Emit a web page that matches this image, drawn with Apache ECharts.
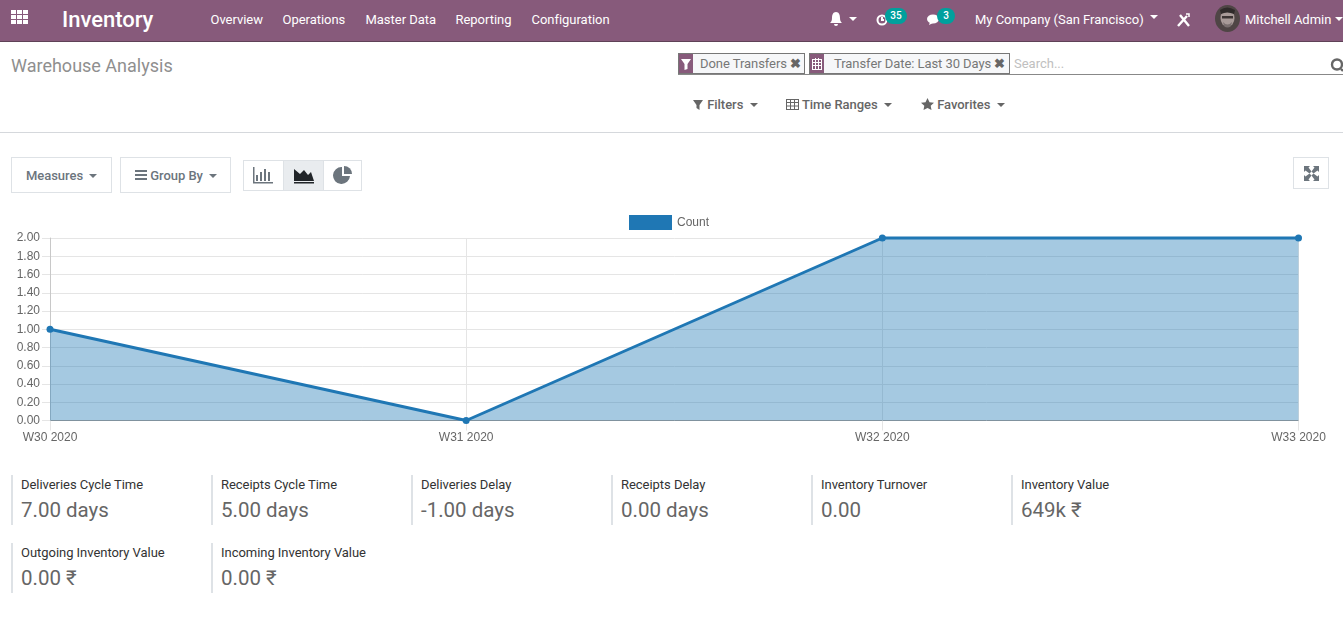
<!DOCTYPE html>
<html>
<head>
<meta charset="utf-8">
<title>Warehouse Analysis</title>
<script src="https://cdn.jsdelivr.net/npm/echarts@6/dist/echarts.min.js"></script>
<style>
html, body { margin: 0; padding: 0; background: #fff; overflow: hidden; }
body { width: 1343px; height: 617px; position: relative; font-family: Roboto, "Noto Sans", sans-serif; color: #4c4c4c; }
.abs { position: absolute; white-space: nowrap; }
#nav { position: absolute; left: 0; top: 0; width: 1343px; height: 41px; background: #875a7b; border-bottom: 1px solid #5f4257; }
#nav .abs { color: #fff; font-size: 13px; line-height: 18px; top: 11px; letter-spacing: -0.03px; }
.caret { display: inline-block; width: 0; height: 0; border-left: 4px solid transparent; border-right: 4px solid transparent; border-top: 4px solid currentColor; vertical-align: 2px; }
.badge { position: absolute; background: #00a09d; color: #fff; border-radius: 8px; font-size: 10px; font-weight: 500; line-height: 16px; height: 16px; text-align: center; }
.rule { position: absolute; left: 0; top: 132px; width: 1343px; height: 1px; background: #d5d8dc; }
.facet { position: absolute; top: 53px; height: 19px; border: 1px solid #777; background: #f6f7f9; color: #777; font-size: 13px; line-height: 19px; letter-spacing: -0.06px; }
.facet .ico { position: absolute; left: 0; top: 0; width: 14px; height: 19px; background: #875a7b; }
.facet .txt { position: absolute; top: 0; white-space: nowrap; }
.drop { position: absolute; top: 97px; font-size: 13px; font-weight: 500; color: #666; line-height: 16px; white-space: nowrap; letter-spacing: -0.04px; }
.btn { position: absolute; box-sizing: border-box; border: 1px solid #dee2e6; background: #fff; color: #6c757d; font-size: 13px; font-weight: 500; letter-spacing: -0.04px; }
#chart { position: absolute; left: 0; top: 205px; width: 1343px; height: 250px; }
.kpi { position: absolute; width: 190px; height: 50px; border-left: 2px solid #dee2e6; box-sizing: border-box; padding-left: 8px; }
.kpi .lbl { font-size: 13px; color: #333; line-height: 16px; margin-top: 2px; white-space: nowrap; letter-spacing: -0.04px; }
.kpi .val { font-size: 20.5px; color: #666; line-height: 26px; margin-top: 4px; white-space: nowrap; }
</style>
</head>
<body>
<div id="nav">
  <svg class="abs" style="left:11px;top:10px" width="18" height="15" fill="#fff"><rect x="0" y="0" width="5" height="4"/><rect x="6" y="0" width="5" height="4"/><rect x="12" y="0" width="5" height="4"/><rect x="0" y="5" width="5" height="4"/><rect x="6" y="5" width="5" height="4"/><rect x="12" y="5" width="5" height="4"/><rect x="0" y="10" width="5" height="4"/><rect x="6" y="10" width="5" height="4"/><rect x="12" y="10" width="5" height="4"/></svg>
  <div class="abs" style="left:62px;top:7px;font-size:22px;line-height:26px;font-weight:500">Inventory</div>
  <div class="abs" style="left:210.500px">Overview</div>
  <div class="abs" style="left:282.500px">Operations</div>
  <div class="abs" style="left:365.500px">Master Data</div>
  <div class="abs" style="left:455.500px">Reporting</div>
  <div class="abs" style="left:531.500px">Configuration</div>
  <svg class="abs" style="left:829px;top:12px" width="14" height="15" fill="#fff"><path d="M7 0C4 0 3 3 3 6C3 9 2 10 1 11H13C12 10 11 9 11 6C11 3 10 0 7 0ZM5 12A2 2 0 0 0 9 12Z"/></svg>
  <span class="abs caret" style="left:849px;top:17px;color:#fff"></span>
  <svg class="abs" style="left:876px;top:13px" width="13" height="14" fill="none" stroke="#fff" stroke-width="2"><circle cx="6" cy="7" r="4.500"/><path d="M6 4V7H8"/></svg>
  <div class="badge" style="left:885px;top:8px;width:22px">35</div>
  <svg class="abs" style="left:927px;top:14px" width="14" height="12" fill="#fff"><ellipse cx="6" cy="5" rx="6" ry="4.500"/><path d="M3 8L2 11L6 9Z"/></svg>
  <div class="badge" style="left:937px;top:8px;width:18px">3</div>
  <div class="abs" style="left:975px">My Company (San Francisco)</div>
  <span class="abs caret" style="left:1150px;top:15px;color:#fff"></span>
  <svg class="abs" style="left:1177px;top:13px" width="13" height="14" stroke="#fff" stroke-width="2.400" fill="none"><path d="M1 13L10 3M3 2L12 13"/><path d="M9 1H12V4" stroke-width="1.500"/></svg>
  <svg class="abs" style="left:1215px;top:5px" width="25" height="27"><ellipse cx="12.500" cy="13.500" rx="12.500" ry="13.500" fill="#4f4545"/><ellipse cx="12.500" cy="13" rx="7" ry="9" fill="#a89a98"/><path d="M5 5Q12 0 20 5L19 9Q12 6 6 9Z" fill="#2f2a2a"/><rect x="7" y="11" width="11" height="2.500" fill="#3c3434"/><path d="M8 17Q12.500 22 17 17L16 21Q12.500 24 9 21Z" fill="#7a6f6f"/></svg>
  <div class="abs" style="left:1245px">Mitchell Admin</div>
  <span class="abs caret" style="left:1335px;top:17px;color:#fff"></span>
</div>

<div class="abs" style="left:11px;top:54px;font-size:18px;line-height:24px;color:#8f8f8f">Warehouse Analysis</div>

<div class="facet" style="left:678px;width:125px">
  <div class="ico"><svg width="14" height="19" fill="#fff"><path d="M2 5H12L8.500 10V15L5.500 16V10Z"/></svg></div>
  <div class="txt" style="left:21px">Done Transfers <b style="color:#666">✖</b></div>
</div>
<div class="facet" style="left:809px;width:199px">
  <div class="ico"><svg width="14" height="19" fill="none" stroke="#fff"><rect x="2.500" y="5.500" width="9" height="10"/><path d="M2.500 8.500H11.500M2.500 11.500H11.500M5.500 4V15M8.500 4V15"/></svg></div>
  <div class="txt" style="left:24px">Transfer Date: Last 30 Days <b style="color:#666">✖</b></div>
</div>
<div class="abs" style="left:1014px;top:56px;font-size:13px;line-height:16px;color:#c0c0c0">Search...</div>
<div class="abs" style="left:678px;top:74px;width:665px;height:1px;background:#888"></div>
<svg class="abs" style="left:1330px;top:58px" width="13" height="14" fill="none" stroke="#666" stroke-width="2.400"><circle cx="7" cy="6.500" r="5"/><path d="M11 11L13 13"/></svg>

<div class="drop" style="left:693px"><svg width="11" height="11" fill="#666" style="vertical-align:-1px"><path d="M0 1H10L6.500 6V11L3.500 9V6Z"/></svg> Filters &nbsp;<span class="caret"></span></div>
<div class="drop" style="left:786px"><svg width="13" height="12" fill="none" stroke="#666" style="vertical-align:-1px"><rect x="0.500" y="1.500" width="12" height="10"/><path d="M0.500 4.500H12.500M0.500 8H12.500M4.500 1V11M8.500 1V11"/></svg> Time Ranges &nbsp;<span class="caret"></span></div>
<div class="drop" style="left:921px"><svg width="13" height="12" fill="#666" style="vertical-align:-1px"><path d="M6.500 0L8.500 4.200L13 4.800L9.700 7.800L10.500 12L6.500 10L2.500 12L3.300 7.800L0 4.800L4.500 4.200Z"/></svg> Favorites &nbsp;<span class="caret"></span></div>

<div class="rule"></div>

<div class="btn" style="left:11px;top:157px;width:101px;height:36px;line-height:35px;padding-left:14px">Measures &nbsp;<span class="caret"></span></div>
<div class="btn" style="left:120px;top:157px;width:111px;height:36px;line-height:35px;padding-left:14px"><svg width="12" height="10" fill="#6c757d"><rect y="0" width="12" height="2"/><rect y="4" width="12" height="2"/><rect y="8" width="12" height="2"/></svg> Group By &nbsp;<span class="caret"></span></div>
<div class="btn" style="left:243px;top:160px;width:41px;height:31px"><svg style="position:absolute;left:9px;top:6px" width="20" height="17" fill="#6c757d"><rect x="0" y="0" width="1.500" height="16"/><rect x="0" y="15" width="20" height="1.500"/><rect x="3" y="8" width="2" height="6"/><rect x="7" y="5" width="2" height="9"/><rect x="11" y="2" width="2" height="12"/><rect x="15" y="5" width="2" height="9"/></svg></div>
<div class="btn" style="left:283px;top:160px;width:41px;height:31px;background:#e9ecef"><svg style="position:absolute;left:10px;top:6px" width="20" height="17" fill="#212529"><path d="M0 14V2L6 7L10 3L14 8L17 5L20 14Z"/><rect y="15" width="20" height="1.500"/></svg></div>
<div class="btn" style="left:323px;top:160px;width:39px;height:31px"><svg style="position:absolute;left:9px;top:5px" width="20" height="18" fill="#6c757d"><path d="M9 1V10H17A8.500 8.500 0 1 1 9 1Z"/><path d="M11 0A8 8 0 0 1 19 8H11Z"/></svg></div>
<div class="btn" style="left:1293px;top:157px;width:36px;height:32px"><svg style="position:absolute;left:10px;top:8px" width="15" height="15" fill="#6c757d"><path d="M0 0H6L4.500 1.500L7.500 5.500L5.500 7.500L1.500 4.500L0 6Z"/><path d="M15 0H9L10.500 1.500L7.500 5.500L9.500 7.500L13.500 4.500L15 6Z"/><path d="M0 15H6L4.500 13.500L7.500 9.500L5.500 7.500L1.500 10.500L0 9Z"/><path d="M15 15H9L10.500 13.500L7.500 9.500L9.500 7.500L13.500 10.500L15 9Z"/></svg></div>

<div id="chart"></div>
<div id="kpis"></div>

<script>
var categories = ['W30 2020', 'W31 2020', 'W32 2020', 'W33 2020'];
var countValues = [1, 0, 2, 2];
var kpiLabels = ['Deliveries Cycle Time', 'Receipts Cycle Time', 'Deliveries Delay', 'Receipts Delay', 'Inventory Turnover', 'Inventory Value', 'Outgoing Inventory Value', 'Incoming Inventory Value'];
var kpiValues = ['7.00 days', '5.00 days', '-1.00 days', '0.00 days', '0.00', '649k ₹', '0.00 ₹', '0.00 ₹'];

var kpiBox = document.getElementById('kpis');
for (var i = 0; i < kpiLabels.length; i++) {
    var el = document.createElement('div');
    el.className = 'kpi';
    el.style.left = (11 + (i % 6) * 200) + 'px';
    el.style.top = (i < 6 ? 475 : 543) + 'px';
    el.innerHTML = '<div class="lbl">' + kpiLabels[i] + '</div><div class="val">' + kpiValues[i] + '</div>';
    kpiBox.appendChild(el);
}

var chart = echarts.init(document.getElementById('chart'));
var option = {
    animation: false,
    color: ['#1f77b4'],
    textStyle: { fontFamily: '"Liberation Sans", Arial, sans-serif' },
    legend: {
        top: 5,
        left: 624,
        itemWidth: 43,
        itemHeight: 15,
        itemGap: 10,
        icon: 'rect',
        textStyle: { fontSize: 12, color: '#666' },
        data: ['Count']
    },
    grid: { left: 50, right: 44.5, top: 33, height: 182.5 },
    xAxis: {
        type: 'category',
        boundaryGap: false,
        data: categories,
        axisLine: { lineStyle: { color: '#999', width: 1 } },
        axisTick: { show: true, length: 10, lineStyle: { color: '#e5e5e5' } },
        axisLabel: { color: '#666', fontSize: 12, margin: 11, interval: 0, hideOverlap: false, showMinLabel: true, showMaxLabel: true },
        splitLine: { show: true, lineStyle: { color: '#e5e5e5', width: 1 } }
    },
    yAxis: {
        type: 'value',
        min: 0,
        max: 2,
        interval: 0.2,
        axisLine: { show: true, lineStyle: { color: '#c8c8c8', width: 1 } },
        axisTick: { show: true, length: 8, lineStyle: { color: '#e5e5e5' } },
        axisLabel: {
            color: '#666',
            fontSize: 12,
            margin: 10,
            padding: [4, 0, 0, 0],
            formatter: function (v) { return v.toFixed(2); }
        },
        splitLine: { show: true, lineStyle: { color: '#e5e5e5', width: 1 } }
    },
    series: [
        {
            name: 'Count',
            type: 'line',
            data: countValues,
            symbol: 'circle',
            symbolSize: 7,
            clip: false,
            lineStyle: { width: 3, color: '#1f77b4' },
            itemStyle: { color: '#1f77b4' },
            areaStyle: { color: '#1f77b4', opacity: 0.4 }
        }
    ]
};
chart.setOption(option);
</script>
</body>
</html>
